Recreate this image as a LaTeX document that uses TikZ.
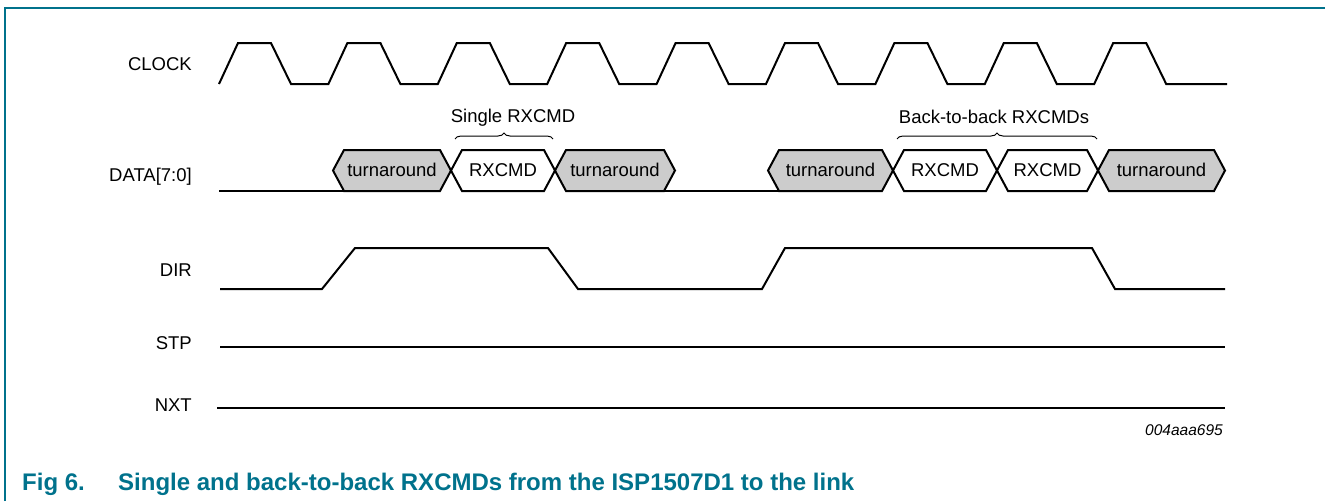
\documentclass[tikz,border=0pt]{standalone}
\usepackage{fontspec}
\setmainfont{Liberation Sans}
\usepackage{xcolor}
\usetikzlibrary{
    arrows.meta,
    positioning,
    decorations.pathreplacing,
    calc
}
\definecolor{nxpteal}{RGB}{0,114,140}

\tikzset{
    sig/.style={line width=2pt, line join=miter},
    turncell/.style={sig, fill=black!20},
    cmdcell/.style={sig, fill=white},
    lbl/.style={font=\fontsize{18.5}{22}\selectfont, inner sep=0pt},
    signame/.style={lbl, anchor=base east},
    capt/.style={anchor=base west, inner sep=0pt, text=nxpteal, font=\fontsize{24}{28}\selectfont\bfseries},
    brc/.style={line width=1pt, decorate, decoration={brace, amplitude=6pt}}
}

\begin{document}
\begin{tikzpicture}[x=1pt, y=-1pt]
    \useasboundingbox (0,0) rectangle (1325,501);
    % frame
    \draw[nxpteal, line width=1.5pt] (5,501) -- (5,8) -- (1325,8);

    % signal names
    \node[signame] (clk) at (192,70) {CLOCK};
    \node[signame] (dat) at (192,181) {DATA[7:0]};
    \node[signame] (dir) at (192,276) {DIR};
    \node[signame] (stp) at (192,349) {STP};
    \node[signame] (nxt) at (192,411) {NXT};

    % clock
    \draw[sig] (219,84) \foreach \k in {1,...,8}{
        -- ++(19,-41) -- ++(33,0) -- ++(20,41) -- ++(37.4,0)
    } -- ++(19,-41) -- ++(33,0) -- ++(20,41) -- (1227,84);

    % data bus
    \draw[sig] (219,191) -- (345,191);
    \draw[sig] (664,191) -- (779,191);
    \foreach \xa/\xb/\st/\txt/\nm in {
        333/451/turncell/turnaround/ta,
        451/555/cmdcell/RXCMD/ca,
        555/675/turncell/turnaround/tb,
        768/893/turncell/turnaround/tc,
        893/997/cmdcell/RXCMD/cb,
        997/1098/cmdcell/RXCMD/cc,
        1098/1225/turncell/turnaround/td}{
        \draw[\st] (\xa,170.5) -- ({\xa+11},150) -- ({\xb-11},150) -- (\xb,170.5)
            -- ({\xb-11},191) -- ({\xa+11},191) -- cycle;
        \node[lbl] (\nm) at ({(\xa+\xb)/2},170) {\txt};
    }

    % braces
    \draw[brc] (455,139) -- (553,139);
    \node[lbl] (single) at (513,118) {Single RXCMD};
    \draw[brc] (897,139) -- (1097,139);
    \node[lbl] (btob) at (994,117) {Back-to-back RXCMDs};

    % direction
    \draw[sig] (220,289) -- (322,289) -- (355,248) -- (548,248) -- (578,289)
        -- (762,289) -- (785,248) -- (1092,248) -- (1115,289) -- (1225,289);

    % stp, nxt
    \draw[sig] (220,347) -- (1225,347);
    \draw[sig] (217,408) -- (1225,408);

    \node[anchor=base east, inner sep=0pt, font=\fontsize{15.5}{18}\selectfont\itshape] (code) at (1223,435) {004aaa695};

    % caption
    \node[capt] (fig) at (22,490) {Fig 6.};
    \node[capt] (cap) at (118,490) {Single and back-to-back RXCMDs from the ISP1507D1 to the link};
\end{tikzpicture}
\end{document}
